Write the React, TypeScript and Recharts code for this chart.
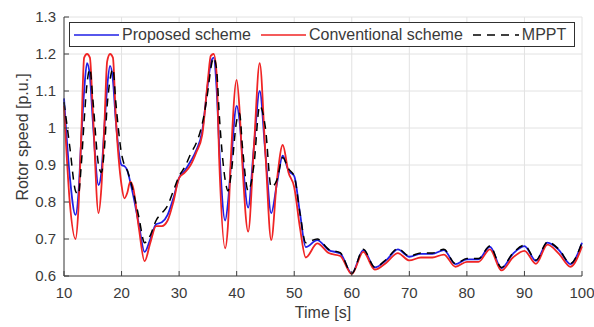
import React from "react";
import { LineChart, Line, XAxis, YAxis, CartesianGrid, Legend, Label } from "recharts";

// time [s]
const time = [
  10, 11, 12, 12.5, 13, 13.5, 14, 14.5, 15, 16,
  16.5, 17, 17.5, 18, 18.5, 19, 20, 20.5, 21, 21.5,
  22, 23, 24, 25, 26, 27, 28, 29, 30, 31,
  32, 33, 34, 35, 35.5, 36, 36.5, 37, 38, 38.5,
  39, 40, 40.5, 41, 42, 43, 44, 45, 46, 47,
  48, 49, 50, 51, 52, 54, 56, 58, 60, 62,
  64, 66, 68, 70, 72, 74, 76, 78, 80, 82,
  84, 86, 88, 90, 92, 94, 96, 98, 100,
];

const proposed = [
  1.08, 0.87, 0.765, 0.82, 0.97, 1.1, 1.175, 1.14, 1.02, 0.846,
  0.88, 1.0, 1.11, 1.168, 1.13, 1.02, 0.9, 0.897, 0.885, 0.855,
  0.82, 0.74, 0.665, 0.7, 0.74, 0.745, 0.765, 0.81, 0.865, 0.885,
  0.91, 0.94, 0.99, 1.12, 1.175, 1.19, 1.11, 0.94, 0.75, 0.8,
  0.9, 1.06, 1.02, 0.92, 0.785, 0.95, 1.1, 0.93, 0.77, 0.85,
  0.925, 0.885, 0.87, 0.77, 0.678, 0.697, 0.67, 0.661, 0.607, 0.67,
  0.623, 0.643, 0.672, 0.652, 0.66, 0.66, 0.67, 0.632, 0.645, 0.645,
  0.679, 0.621, 0.66, 0.681, 0.641, 0.69, 0.67, 0.632, 0.69,
];

const conventional = [
  1.06, 0.8, 0.7, 0.78, 0.98, 1.19, 1.2, 1.19, 1.05, 0.77,
  0.84, 1.0, 1.18, 1.2, 1.19, 1.03, 0.845, 0.81, 0.825, 0.855,
  0.84, 0.73, 0.64, 0.69, 0.735, 0.735, 0.75, 0.8, 0.865, 0.88,
  0.9, 0.935, 0.98, 1.13, 1.195, 1.2, 1.15, 0.9, 0.675, 0.74,
  0.92, 1.13, 1.05, 0.9, 0.72, 0.95, 1.175, 0.93, 0.697, 0.86,
  0.954, 0.88, 0.84, 0.73, 0.65, 0.688, 0.662, 0.654, 0.605, 0.665,
  0.617, 0.636, 0.662, 0.642, 0.65, 0.65, 0.658, 0.625, 0.638, 0.638,
  0.672, 0.615, 0.65, 0.668, 0.633, 0.685, 0.66, 0.625, 0.68,
];

const mppt = [
  1.07, 0.95, 0.83, 0.82, 0.9, 1.02, 1.12, 1.16, 1.08, 0.9,
  0.88, 0.94, 1.06, 1.13, 1.16, 1.07, 0.93, 0.9, 0.885, 0.86,
  0.83, 0.76, 0.69, 0.71, 0.75, 0.77, 0.79, 0.83, 0.87, 0.895,
  0.93, 0.96, 1.01, 1.1, 1.16, 1.19, 1.16, 1.03, 0.86, 0.83,
  0.87, 1.02, 1.04, 0.95, 0.83, 0.9, 1.06, 1.0, 0.84, 0.86,
  0.92, 0.89, 0.87, 0.77, 0.69, 0.7, 0.672, 0.663, 0.607, 0.672,
  0.624, 0.645, 0.674, 0.654, 0.662, 0.662, 0.672, 0.634, 0.647, 0.647,
  0.681, 0.623, 0.662, 0.683, 0.643, 0.692, 0.672, 0.634, 0.692,
];

const xTicks = [10, 20, 30, 40, 50, 60, 70, 80, 90, 100];
const yTicks = [0.6, 0.7, 0.8, 0.9, 1.0, 1.1, 1.2, 1.3];

const seriesNames = ["Proposed scheme", "Conventional scheme", "MPPT"];

const data = time.map((t, i) => ({
  t,
  proposed: proposed[i],
  conventional: conventional[i],
  mppt: mppt[i],
}));

const FONT = '"Liberation Sans", Arial, sans-serif';
const TXT = "#3a3a3a";
const AX = "#404040";

function LegendBox() {
  const item = (color: string, dash: string | undefined, label: string, w: number) => (
    <div style={{ display: "flex", alignItems: "center", marginRight: 10 }}>
      <svg width={w} height={10} style={{ marginRight: 3 }}>
        <line x1={0} y1={5} x2={w} y2={5} stroke={color} strokeWidth={1.6} strokeDasharray={dash} />
      </svg>
      <span>{label}</span>
    </div>
  );
  return (
    <div
      style={{
        display: "flex",
        alignItems: "center",
        boxSizing: "border-box",
        width: 506,
        height: 25,
        paddingLeft: 4,
        border: "1px solid #303030",
        background: "#fff",
        fontFamily: FONT,
        fontSize: 16,
        color: TXT,
        whiteSpace: "nowrap",
      }}
    >
      {item("#1f1fe6", undefined, seriesNames[0], 45)}
      {item("#f02424", undefined, seriesNames[1], 45)}
      {item("#000", "8 6", seriesNames[2], 46)}
    </div>
  );
}

export default function App() {
  return (
    <div style={{ position: "absolute", left: 0, top: 0, width: 594, height: 327, background: "#fff" }}>
      <LineChart width={594} height={327} data={data} margin={{ top: 17, right: 12, bottom: 0, left: 0 }}>
        <CartesianGrid stroke="#e2e2e2" strokeWidth={1} />
        <XAxis
          dataKey="t"
          type="number"
          domain={[10, 100]}
          ticks={xTicks}
          height={51}
          stroke={AX}
          tickSize={-5}
          tickMargin={16}
          tick={{ fill: TXT, fontSize: 15, fontFamily: FONT }}
        >
          <Label
            content={() => (
              <text x={323} y={318} textAnchor="middle" fill={TXT} fontSize={16} fontFamily={FONT}>
                Time [s]
              </text>
            )}
          />
        </XAxis>
        <XAxis
          xAxisId="top"
          dataKey="t"
          type="number"
          orientation="top"
          domain={[10, 100]}
          ticks={xTicks}
          height={0}
          stroke={AX}
          tickSize={-4}
          tick={false}
        />
        <YAxis
          type="number"
          domain={[0.6, 1.3]}
          ticks={yTicks}
          width={64}
          stroke={AX}
          tickSize={-5}
          tickMargin={13}
          tickFormatter={(v: number) => String(+v.toFixed(1))}
          tick={{ fill: TXT, fontSize: 15, fontFamily: FONT }}
        >
          <Label
            content={() => (
              <text
                x={28}
                y={137}
                transform="rotate(-90, 28, 137)"
                textAnchor="middle"
                fill={TXT}
                fontSize={16}
                fontFamily={FONT}
              >
                Rotor speed [p.u.]
              </text>
            )}
          />
        </YAxis>
        <YAxis
          yAxisId="right"
          orientation="right"
          type="number"
          domain={[0.6, 1.3]}
          ticks={yTicks}
          width={0}
          stroke={AX}
          tickSize={-4}
          tick={false}
        />
        <Legend
          layout="horizontal"
          verticalAlign="middle"
          wrapperStyle={{ top: 22, left: 69, width: 506 }}
          content={() => <LegendBox />}
        />
        <Line
          type="monotone"
          dataKey="proposed"
          name={seriesNames[0]}
          stroke="#1f1fe6"
          strokeWidth={1.8}
          dot={false}
          isAnimationActive={false}
        />
        <Line
          type="monotone"
          dataKey="conventional"
          name={seriesNames[1]}
          stroke="#f02424"
          strokeWidth={1.8}
          dot={false}
          isAnimationActive={false}
        />
        <Line
          type="monotone"
          dataKey="mppt"
          name={seriesNames[2]}
          stroke="#000"
          strokeWidth={1.5}
          strokeDasharray="8 6"
          dot={false}
          isAnimationActive={false}
        />
      </LineChart>
    </div>
  );
}
